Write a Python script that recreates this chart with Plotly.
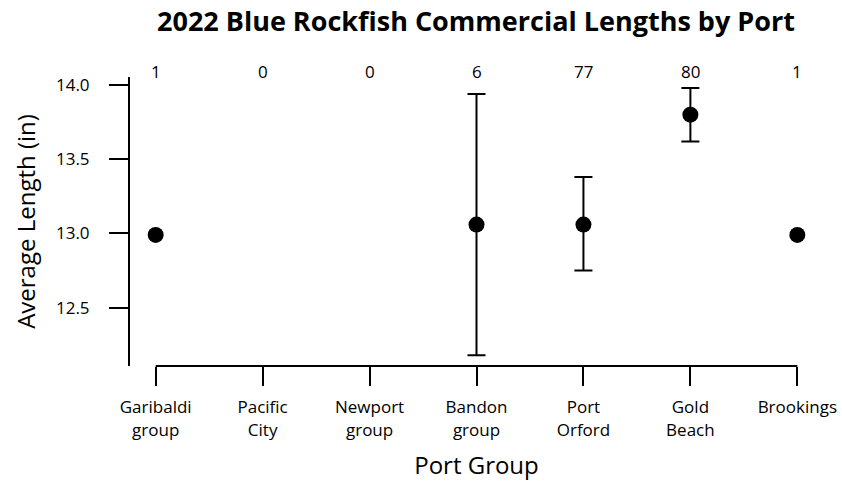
import plotly.graph_objects as go

ports = ["Garibaldi<br>group", "Pacific<br>City", "Newport<br>group", "Bandon<br>group",
         "Port<br>Orford", "Gold<br>Beach", "Brookings"]
positions = [1, 2, 3, 4, 5, 6, 7]
mean_len = [12.99, None, None, 13.06, 13.06, 13.80, 12.99]
upper = [None, None, None, 13.94, 13.38, 13.98, None]
lower = [None, None, None, 12.18, 12.75, 13.62, None]
counts = [1, 0, 0, 6, 77, 80, 1]

err_plus = [(u - m) if (u is not None and m is not None) else 0 for u, m in zip(upper, mean_len)]
err_minus = [(m - l) if (l is not None and m is not None) else 0 for l, m in zip(lower, mean_len)]

FONT = "Open Sans"

fig = go.Figure()
eb_x = [p for p, u in zip(positions, upper) if u is not None]
eb_y = [m for m, u in zip(mean_len, upper) if u is not None]
eb_p = [e for e, u in zip(err_plus, upper) if u is not None]
eb_m = [e for e, u in zip(err_minus, upper) if u is not None]
fig.add_trace(go.Scatter(
    x=eb_x, y=eb_y, mode="markers",
    marker=dict(size=1, color="rgba(0,0,0,0)"),
    error_y=dict(type="data", symmetric=False, array=eb_p, arrayminus=eb_m,
                 color="black", thickness=2, width=9),
    showlegend=False, hoverinfo="skip"))
fig.add_trace(go.Scatter(
    x=positions, y=mean_len, mode="markers",
    marker=dict(size=16, color="black"),
    showlegend=False))

for p, c in zip(positions, counts):
    fig.add_annotation(x=p, y=1, xref="x", yref="paper", text=str(c),
                       showarrow=False, yanchor="middle", yshift=6,
                       font=dict(family=FONT, size=17, color="black"))

fig.add_shape(type="line", xref="x", yref="paper", x0=positions[0], x1=positions[-1],
              y0=0, y1=0, line=dict(color="black", width=2))

fig.update_layout(
    width=842, height=482,
    margin=dict(l=130, r=19, t=77, b=116, autoexpand=False),
    plot_bgcolor="white", paper_bgcolor="white",
    font=dict(family=FONT, size=17, color="black"),
    title=dict(text="<b>2022 Blue Rockfish Commercial Lengths by Port</b>",
               x=476/842, xanchor="center", y=1-22/482, yanchor="middle",
               font=dict(family=FONT, size=27, color="black")),
)
fig.update_xaxes(
    range=[0.76, 7.24], tickvals=positions, ticktext=ports,
    showline=False, showgrid=False, zeroline=False, automargin=False,
    ticks="outside", ticklen=19, tickwidth=2, tickcolor="black",
    ticklabelstandoff=7,
    title=dict(text="Port Group", font=dict(size=24), standoff=17),
)
fig.update_yaxes(
    range=[12.107, 14.054], tickvals=[12.5, 13.0, 13.5, 14.0],
    ticktext=["12.5", "13.0", "13.5", "14.0"],
    showline=True, linecolor="black", linewidth=2,
    showgrid=False, zeroline=False, automargin=False,
    ticks="outside", ticklen=19, tickwidth=2, tickcolor="black",
    ticklabelstandoff=16,
    title=dict(text="Average Length (in)", font=dict(size=24), standoff=14),
)

fig.write_html("out.html", config={"displayModeBar": False},
               post_script="document.body.style.margin='0';document.body.style.overflow='hidden';")
